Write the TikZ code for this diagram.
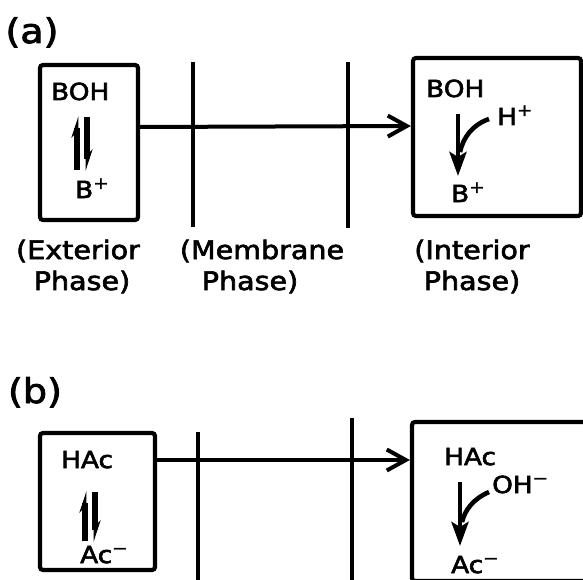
\documentclass[tikz,border=0pt]{standalone}
\usepackage{fontspec}
\setmainfont{DejaVu Sans}[FakeStretch=1.12, FakeBold=2.5]
\usetikzlibrary{arrows.meta}
\tikzset{
  box/.style={draw, line width=4.2pt, rounded corners=3pt, inner sep=0pt},
  wall/.style={line width=4.2pt},
  conn/.style={line width=4pt, -{Straight Barb[length=19pt, width=21pt]}},
  eqarrow/.style={line width=5.5pt, -{Stealth[left, length=17pt, width=11pt]}},
  react/.style={line width=4.6pt, -{Stealth[length=24pt, width=17pt, inset=5pt]}},
  hook/.style={line width=4.6pt},
  chem/.style={inner sep=0pt, anchor=base west, font=\fontsize{23.5}{26}\selectfont},
  lab/.style={inner sep=0pt, anchor=base, font=\fontsize{25.5}{29}\selectfont},
  tag/.style={inner sep=0pt, anchor=base, font=\fontsize{34}{38}\selectfont},
}
\begin{document}
\begin{tikzpicture}[x=1pt, y=-1pt]
\path[use as bounding box, clip] (0,0) rectangle (583,580);
\fill[white] (0,0) rectangle (583,580);

% ---------- panel (a)
\node[tag] (ta) at (32,43) {(a)};
\node[box, minimum width=98pt, minimum height=155pt] (exA) at (89,142.5) {};
\node[box, minimum width=168pt, minimum height=158pt] (inA) at (497,137) {};
\coordinate (ma1t) at (193,62);  \coordinate (ma1b) at (193,227);
\coordinate (ma2t) at (348,62);  \coordinate (ma2b) at (348,228);
\draw[wall] (ma1t) -- (ma1b);
\draw[wall] (ma2t) -- (ma2b);
\draw[conn] (exA.east |- 0,127) -- (inA.west |- 0,126);

\node[chem] (bohA) at (51,100) {BOH};
\node[chem] (bpA) at (75,198) {B\textsuperscript{+}};
\coordinate (eqa1b) at (77,170); \coordinate (eqa1t) at (77,116);
\coordinate (eqa2t) at (87,117); \coordinate (eqa2b) at (87,171);
\draw[eqarrow] (eqa1b) -- (eqa1t);
\draw[eqarrow] (eqa2t) -- (eqa2b);

\node[chem] (bohA2) at (426,97) {BOH};
\node[chem] (hpA) at (497,125) {H\textsuperscript{+}};
\node[chem] (bpA2) at (451,202) {B\textsuperscript{+}};
\coordinate (va1) at (458,114); \coordinate (va2) at (458,176);
\draw[react] (va1) -- (va2);
\coordinate (ca1) at (489,119); \coordinate (ca2) at (460,152);
\draw[hook] (ca1) .. controls (472,125) and (463,138) .. (ca2);

\node[lab] (l1a) at (78,259) {(Exterior};
\node[lab] (l2a) at (82,290) {Phase)};
\node[lab] (l3a) at (262,259) {(Membrane};
\node[lab] (l4a) at (250,290) {Phase)};
\node[lab] (l5a) at (472,259) {(Interior};
\node[lab] (l6a) at (472,290) {Phase)};

% ---------- panel (b)
\node[tag] (tb) at (35,403) {(b)};
\node[box, minimum width=115pt, minimum height=137pt] (exB) at (97.5,501.5) {};
\node[box, minimum width=188pt, minimum height=159pt] (inB) at (506,501.5) {};
\coordinate (mb1t) at (198,432);  \coordinate (mb1b) at (198,585);
\coordinate (mb2t) at (352,418);  \coordinate (mb2b) at (352,585);
\draw[wall] (mb1t) -- (mb1b);
\draw[wall] (mb2t) -- (mb2b);
\draw[conn] (exB.east |- 0,460) -- (inB.west |- 0,460);

\node[chem] (hacB) at (61,468) {HAc};
\node[chem] (acB) at (80,563) {Ac\textsuperscript{\char"2212}};
\coordinate (eqb1b) at (85,541); \coordinate (eqb1t) at (85,491);
\coordinate (eqb2t) at (95,492); \coordinate (eqb2b) at (95,542);
\draw[eqarrow] (eqb1b) -- (eqb1t);
\draw[eqarrow] (eqb2t) -- (eqb2b);

\node[chem] (hacB2) at (444,465) {HAc};
\node[chem] (ohB) at (492,493) {OH\textsuperscript{\char"2212}};
\node[chem] (acB2) at (451,573) {Ac\textsuperscript{\char"2212}};
\coordinate (vb1) at (460,482); \coordinate (vb2) at (460,546);
\draw[react] (vb1) -- (vb2);
\coordinate (cb1) at (489,492); \coordinate (cb2) at (462,522);
\draw[hook] (cb1) .. controls (473,499) and (465,510) .. (cb2);
\end{tikzpicture}
\end{document}
